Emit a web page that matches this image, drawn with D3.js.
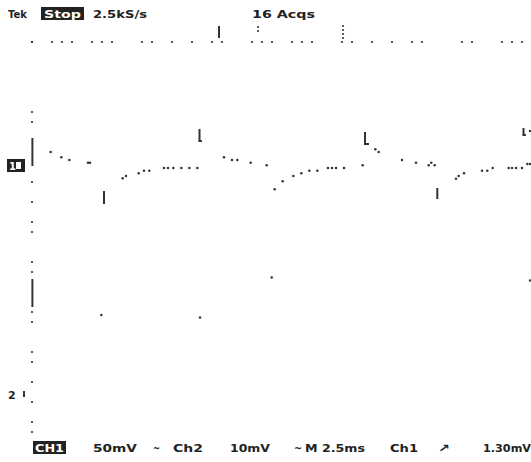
<!DOCTYPE html>
<html><head><meta charset="utf-8">
<script src="https://cdn.jsdelivr.net/npm/d3@7"></script>
<style>
html,body{margin:0;padding:0;background:#fff;}
svg{display:block;}
text{font-family:"DejaVu Sans",sans-serif;font-weight:bold;font-size:11px;fill:#222;}
</style></head>
<body>
<script>
// ---- data ----
// Ch1 trace samples: time (ms), voltage (mV), 50 mV/div
const ch1Time = [0.935,1.465,1.865,2.8,2.9,4.535,4.7,5.335,5.6,5.865,6.6,6.8,7.065,7.465,7.865,8.265,
  9.6,10.0,10.265,10.935,11.735,12.135,12.535,13.065,13.465,13.865,14.265,14.8,15.0,15.2,15.6,
  16.535,17.165,17.335,18.5,19.2,19.835,19.965,20.135,21.2,21.335,21.6,22.5,22.765,23.035,
  23.835,24.0,24.2,24.5,24.765,24.9,24.9];
const ch1Volt = [13,7.7,5,2.3,2.3,-13.3,-11,-8.3,-5.7,-5.7,-3,-3,-3,-3,-3,-3,
  7.7,5,5,2.3,-0.3,-24.3,-16.3,-11,-8.3,-5.7,-5.7,-3,-3,-3,-3,
  -0.3,15.7,13,5,2.3,-0.3,2.3,-0.3,-13.7,-11,-8.3,-5.7,-5.7,-3,
  -3,-3,-3,-3,1,1,34];
// Ch1 spikes (vertical runs of samples): time, top, bottom (mV), foot length (ms)
const ch1SpikeTime = [0.02,3.6,8.375,16.65,20.265,24.575];
const ch1SpikeTop  = [27,-26,36,33,-23,37];
const ch1SpikeBot  = [-1,-39,24,21,-34,30];
const ch1SpikeFoot = [0,0,0.12,0.2,0,0.12];
// Ch2 trace samples: time (ms), voltage (mV), 10 mV/div
const ch2Time = [3.465,8.4,11.985,24.9];
const ch2Volt = [15.6,15.1,23.1,22.5];
const ch2SpikeTime = [0.02];
const ch2SpikeTop = [22.8];
const ch2SpikeBot = [17.2];
// graticule minor tick indices visible on the top and left edges
const topTicks = [0,2,3,4,6,7,8,11,12,14,16,18,19,22,23,24,26,27,28,31,32,34,36,38,39,43,44,47,48,49,50];
const leftTicks = [0,7,8,14,16,18,19,22,23,27,28,31,32,34,36,38,39];
// labels
const topLabels = ["Tek","Stop","2.5kS/s","16 Acqs"];
const bottomLabels = ["CH1","50mV","~","Ch2","10mV","~","M 2.5ms","Ch1","\u2197","1.30mV"];

// ---- drawing ----
const W = 531, H = 462;
const svg = d3.select("body").append("svg").attr("width", W).attr("height", H);
const X0 = 32, X1 = 532, Y0 = 42, Y1 = 442;
const x = d3.scaleLinear().domain([0, 25]).range([X0, X1]);          // 2.5 ms/div
const gx = d3.scaleLinear().domain([0, 50]).range([X0, X1]);          // minor ticks
const gy = d3.scaleLinear().domain([0, 40]).range([Y0, Y1]);
const ch1Zero = 165, ch2Zero = 393;
const y1 = d3.scaleLinear().domain([0, 50]).range([ch1Zero, ch1Zero - 50]);  // 50 mV/div
const y2 = d3.scaleLinear().domain([0, 10]).range([ch2Zero, ch2Zero - 50]);  // 10 mV/div
const dotCol = "#333";

// graticule dots
svg.append("g").selectAll("circle").data(topTicks).join("circle")
  .attr("cx", d => gx(d)).attr("cy", Y0).attr("r", 1.1).attr("fill", dotCol);
svg.append("g").selectAll("circle").data(leftTicks).join("circle")
  .attr("cx", X0).attr("cy", d => gy(d)).attr("r", 1.1).attr("fill", dotCol);

// traces
const ch1 = ch1Time.map((t, i) => ({t, v: ch1Volt[i]}));
svg.append("g").selectAll("circle").data(ch1).join("circle")
  .attr("cx", d => x(d.t)).attr("cy", d => y1(d.v)).attr("r", 1.25).attr("fill", dotCol);
const sp1 = ch1SpikeTime.map((t, i) => ({t, a: ch1SpikeTop[i], b: ch1SpikeBot[i], f: ch1SpikeFoot[i]}));
svg.append("g").selectAll("line").data(sp1).join("line")
  .attr("x1", d => x(d.t)).attr("x2", d => x(d.t))
  .attr("y1", d => y1(d.a)).attr("y2", d => y1(d.b))
  .attr("stroke", dotCol).attr("stroke-width", 2);
svg.append("g").selectAll("line").data(sp1.filter(d => d.f > 0)).join("line")
  .attr("x1", d => x(d.t) - 1).attr("x2", d => x(d.t + d.f))
  .attr("y1", d => y1(d.b)).attr("y2", d => y1(d.b))
  .attr("stroke", dotCol).attr("stroke-width", 2);
const ch2 = ch2Time.map((t, i) => ({t, v: ch2Volt[i]}));
svg.append("g").selectAll("circle").data(ch2).join("circle")
  .attr("cx", d => x(d.t)).attr("cy", d => y2(d.v)).attr("r", 1.25).attr("fill", dotCol);
const sp2 = ch2SpikeTime.map((t, i) => ({t, a: ch2SpikeTop[i], b: ch2SpikeBot[i]}));
svg.append("g").selectAll("line").data(sp2).join("line")
  .attr("x1", d => x(d.t)).attr("x2", d => x(d.t))
  .attr("y1", d => y2(d.a)).attr("y2", d => y2(d.b))
  .attr("stroke", dotCol).attr("stroke-width", 2);

// top markers
svg.append("line").attr("x1", 219).attr("x2", 219).attr("y1", 26).attr("y2", 38)
  .attr("stroke", dotCol).attr("stroke-width", 2);
svg.append("g").selectAll("circle").data([27, 31]).join("circle")
  .attr("cx", 258).attr("cy", d => d).attr("r", 1.1).attr("fill", dotCol);
svg.append("g").selectAll("circle").data([26, 30, 34, 38]).join("circle")
  .attr("cx", 343).attr("cy", d => d).attr("r", 1.1).attr("fill", dotCol);

// channel ground markers
svg.append("rect").attr("x", 7).attr("y", 159).attr("width", 18).attr("height", 13).attr("fill", "#222");
svg.append("rect").attr("x", 16).attr("y", 162).attr("width", 5).attr("height", 7).attr("fill", "#fff");
svg.append("text").attr("x", 9).attr("y", 170).style("fill", "#fff").style("font-size", "10px").text("1");
svg.append("text").attr("x", 8).attr("y", 399).text("2");
svg.append("line").attr("x1", 24).attr("x2", 24).attr("y1", 391).attr("y2", 397)
  .attr("stroke", dotCol).attr("stroke-width", 2);

// top status text
const topPos = [[8,19],[44,37],[93,54],[252,63]];
svg.append("rect").attr("x", 41).attr("y", 7).attr("width", 43).attr("height", 13).attr("fill", "#222");
topLabels.forEach((s, i) => {
  svg.append("text").attr("x", topPos[i][0]).attr("y", 18)
    .attr("textLength", topPos[i][1]).attr("lengthAdjust", "spacingAndGlyphs")
    .style("fill", i === 1 ? "#fff" : "#222").text(s);
});
// bottom status text
const botPos = [[35,29],[93,44],[153,7],[173,30],[230,40],[294,8],[305,60],[390,28],[438,12],[483,48]];
svg.append("rect").attr("x", 33).attr("y", 441).attr("width", 33).attr("height", 13).attr("fill", "#222");
bottomLabels.forEach((s, i) => {
  svg.append("text").attr("x", botPos[i][0]).attr("y", 452)
    .attr("textLength", botPos[i][1]).attr("lengthAdjust", "spacingAndGlyphs")
    .style("fill", i === 0 ? "#fff" : "#222").text(s);
});
</script>
</body></html>
